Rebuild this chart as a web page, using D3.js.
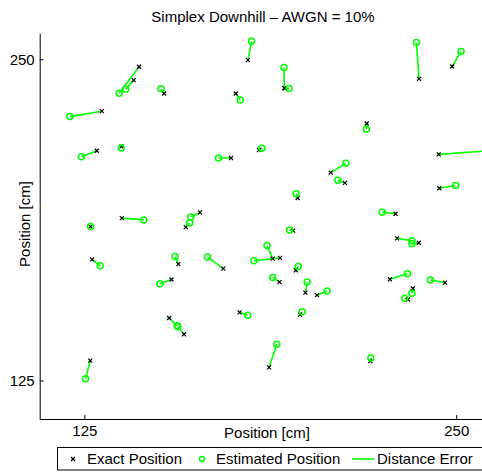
<!DOCTYPE html>
<html>
<head>
  <meta charset="utf-8">
  <title>Simplex Downhill</title>
  <style>
    body { margin: 0; background: #fff; }
    text { font-family: 'Liberation Sans', Arial, sans-serif; fill: #000; }
  </style>
</head>
<body>
  <div id="plot"></div>
  <script src="https://cdn.jsdelivr.net/npm/d3@7"></script>
  <script>

    function translate(x, y) {
      return 'translate(' + x + ', ' + y + ')';
    }

    // exact node positions [cm]
    let exactX = [143.4, 141.6, 151.8, 130.9, 129.2, 137.5, 137.6, 127.1, 180.0, 192.2,
                  192.4, 175.9, 183.7, 174.3, 207.8, 196.7, 163.9, 159.1, 237.5, 248.6,
                  219.9, 244.1, 212.6, 244.3, 229.6, 127.6, 156.6, 154.3, 153.5, 158.5,
                  127.0, 195.2, 171.7, 188.3, 190.8, 196.1, 190.6, 199.3, 203.2, 177.2,
                  197.5, 187.1, 230.1, 237.4, 227.7, 246.2, 235.4, 233.8, 221.1];
    let exactY = [247.1, 241.9, 236.7, 229.8, 214.4, 216.1, 188.2, 184.9, 249.7, 238.8,
                  238.7, 236.7, 214.7, 211.6, 205.9, 196.0, 190.4, 184.7, 242.4, 247.2,
                  225.0, 213.0, 201.9, 199.8, 189.9, 172.1, 170.3, 164.3, 149.3, 143.0,
                  132.7, 183.3, 168.5, 172.4, 172.7, 167.9, 163.3, 159.2, 158.2, 151.5,
                  150.6, 130.1, 180.3, 178.6, 164.4, 163.1, 160.8, 156.5, 132.5];

    // estimated positions [cm]
    let estX = [136.7, 138.9, 150.8, 120.1, 124.0, 137.4, 145.0, 127.1, 181.2, 192.1,
                193.8, 177.4, 184.7, 170.1, 212.9, 196.2, 160.8, 160.4, 236.6, 251.6,
                219.8, 264.7, 210.2, 249.8, 225.1, 130.3, 155.5, 150.4, 156.2, 156.4,
                125.4, 194.0, 166.4, 186.4, 182.0, 196.9, 188.3, 199.9, 206.6, 179.9,
                198.2, 189.7, 235.1, 235.1, 233.6, 241.3, 235.1, 232.7, 221.3];
    let estY = [236.8, 238.3, 238.5, 227.7, 212.1, 215.5, 187.5, 184.9, 257.0, 246.8,
                238.6, 234.2, 215.4, 211.6, 209.5, 197.7, 188.6, 186.3, 256.5, 253.0,
                222.8, 214.7, 202.9, 200.9, 190.5, 169.6, 173.2, 162.6, 146.3, 146.0,
                125.7, 183.6, 173.1, 177.5, 171.6, 169.4, 165.1, 163.3, 159.8, 150.4,
                151.7, 139.1, 179.4, 178.2, 166.5, 164.1, 158.9, 157.0, 133.7];

    let tickValues = [125, 250];

    let nodes = exactX.map((d, i) => ({
      ex: d, ey: exactY[i], sx: estX[i], sy: estY[i]
    }));

    let svgWidth = 482;
    let svgHeight = 472;
    let green = '#00ff00';

    let svg = d3.select('#plot')
      .append('svg')
        .attr('width', svgWidth)
        .attr('height', svgHeight);

    let x = d3.scaleLinear().domain([110, 260]).range([39.7, 486]);
    let y = d3.scaleLinear().domain([110, 260]).range([419, 33.6]);

    // title
    svg.append('text')
      .attr('x', 263)
      .attr('y', 22)
      .style('text-anchor', 'middle')
      .style('font-size', '15px')
      .text('Simplex Downhill \u2013 AWGN = 10%');

    // distance error lines
    svg.append('g')
      .selectAll('line')
      .data(nodes)
      .enter()
      .append('line')
        .attr('x1', d => x(d.ex))
        .attr('y1', d => y(d.ey))
        .attr('x2', d => x(d.sx))
        .attr('y2', d => y(d.sy))
        .style('stroke', green)
        .style('stroke-width', 1.6);

    // exact positions
    svg.append('g')
      .selectAll('path')
      .data(nodes)
      .enter()
      .append('path')
        .attr('transform', d => translate(x(d.ex), y(d.ey)))
        .attr('d', 'M-2,-2L2,2M-2,2L2,-2')
        .style('stroke', '#000')
        .style('stroke-width', 1.2)
        .style('fill', 'none');

    // estimated positions
    svg.append('g')
      .selectAll('circle')
      .data(nodes)
      .enter()
      .append('circle')
        .attr('cx', d => x(d.sx))
        .attr('cy', d => y(d.sy))
        .attr('r', 3)
        .style('stroke', green)
        .style('stroke-width', 1.5)
        .style('fill', 'none');

    // axes (box off, ticks inward)
    let xAxis = d3.axisBottom(x).tickValues(tickValues).tickSize(-4).tickPadding(6);
    let yAxis = d3.axisLeft(y).tickValues(tickValues).tickSize(-4).tickPadding(5);

    let gx = svg.append('g')
      .attr('transform', translate(0, 419))
      .call(xAxis);
    let gy = svg.append('g')
      .attr('transform', translate(39.7, 0))
      .call(yAxis);

    [gx, gy].forEach(g => {
      g.select('.domain').style('stroke', '#000').style('stroke-width', 1);
      g.selectAll('.tick line').style('stroke', '#000');
      g.selectAll('.tick text')
        .style('font-family', "'Liberation Sans', Arial, sans-serif")
        .style('font-size', '15px')
        .style('fill', '#000');
    });
    gx.select('.domain').attr('d', 'M39.7,0.5H486');
    gy.select('.domain').attr('d', 'M0.5,419V33.6');

    // axis labels
    svg.append('text')
      .attr('x', 267)
      .attr('y', 438)
      .style('text-anchor', 'middle')
      .style('font-size', '15px')
      .text('Position [cm]');

    svg.append('text')
      .attr('transform', translate(30, 224) + ' rotate(-90)')
      .style('text-anchor', 'middle')
      .style('font-size', '15px')
      .text('Position [cm]');

    // legend
    let legend = svg.append('g');
    legend.append('rect')
      .attr('x', 57.5)
      .attr('y', 447.5)
      .attr('width', 440)
      .attr('height', 22.5)
      .style('fill', '#fff')
      .style('stroke', '#000')
      .style('stroke-width', 1);

    legend.append('path')
      .attr('transform', translate(73, 459))
      .attr('d', 'M-2,-2L2,2M-2,2L2,-2')
      .style('stroke', '#000')
      .style('stroke-width', 1.2);
    legend.append('text')
      .attr('x', 87).attr('y', 464)
      .style('font-size', '15px')
      .text('Exact Position');

    legend.append('circle')
      .attr('cx', 202).attr('cy', 459).attr('r', 2.5)
      .style('stroke', green)
      .style('stroke-width', 1.5)
      .style('fill', 'none');
    legend.append('text')
      .attr('x', 216).attr('y', 464)
      .style('font-size', '15px')
      .text('Estimated Position');

    legend.append('line')
      .attr('x1', 352).attr('x2', 374)
      .attr('y1', 459).attr('y2', 459)
      .style('stroke', green)
      .style('stroke-width', 1.6);
    legend.append('text')
      .attr('x', 377).attr('y', 464)
      .style('font-size', '15px')
      .text('Distance Error');

  </script>
</body>
</html>
